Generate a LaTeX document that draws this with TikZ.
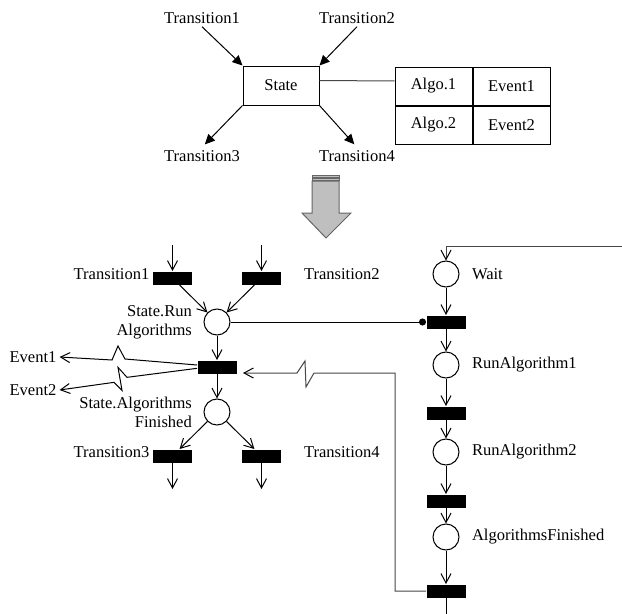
\documentclass[tikz,border=0pt]{standalone}
\usepackage{fontspec}
\setmainfont{Liberation Serif}
\usetikzlibrary{positioning, arrows.meta}

\begin{document}
\begin{tikzpicture}[
        x=0.75pt, y=-0.75pt,
        line width=0.75pt,
        every node/.style={font=\fontsize{12.4pt}{14.3pt}\selectfont},
        txt/.style={inner sep=2pt, align=center},
        statebox/.style={draw, rectangle, minimum width=57pt, minimum height=29.25pt},
        cell/.style={draw, rectangle, minimum width=57.75pt, minimum height=28.5pt, inner sep=0pt},
        place/.style={draw, circle, minimum size=19.5pt, inner sep=0pt},
        tbar/.style={fill=black, rectangle, minimum width=29.25pt, minimum height=9.75pt, inner sep=0pt},
        solid arrow/.style={-{Triangle[length=7.5pt, width=7pt]}},
        open arrow/.style={-{Straight Barb[length=7pt, width=7.5pt, color=black]}},
        link/.style={draw=black!72}
    ]
    \useasboundingbox (0,0) rectangle (622,614);

    % state with its transitions
    \node[statebox] (state) at (281,85.5) {State};
    \node[txt] (t1) at (202,18) {Transition1};
    \node[txt] (t2) at (357,18) {Transition2};
    \node[txt] (t3) at (202,156) {Transition3};
    \node[txt] (t4) at (357,156) {Transition4};

    \draw[solid arrow] (t1.south) -- (state.north west);
    \draw[solid arrow] (t2.south) -- (state.north east);
    \draw[solid arrow, shorten >=3pt] (state.south west) -- (t3.north);
    \draw[solid arrow, shorten >=3pt] (state.south east) -- (t4.north);

    % algorithm table
    \node[cell] (algoA) at (433.5,86) {Algo.1};
    \node[cell, right=0pt of algoA] (eventA) {Event1};
    \node[cell, below=0pt of algoA] (algoB) {Algo.2};
    \node[cell, right=0pt of algoB] (eventB) {Event2};

    \draw[link] ([yshift=3.75pt]state.east) -- ([yshift=3.75pt]algoA.west);

    % big gray arrow
    \draw[black!60, fill=black!25] (312,175) rectangle (339,177);
    \draw[black!60, fill=black!25] (312,178) rectangle (339,180);
    \draw[black!60, fill=black!25] (312,181) -- (339,181) -- (339,213) -- (351,213)
        -- (326,238) -- (302,213) -- (312,213) -- cycle;

    % petri net of the state
    \node[tbar] (tr1) at (172.5,278) {};
    \node[tbar] (tr2) at (261.5,278) {};
    \node[txt, left=0pt of tr1, yshift=3pt] (lt1) {Transition1};
    \node[txt, right=14.5pt of tr2, yshift=3pt] (lt2) {Transition2};
    \coordinate (in1) at (172.5,245);
    \coordinate (in2) at (261.5,245);
    \draw[open arrow] (in1) -- (tr1);
    \draw[open arrow] (in2) -- (tr2);

    \node[place] (run) at (217,322) {};
    \node[txt, align=right, anchor=east] (lrun) at (195,322) {State.Run\\Algorithms};
    \draw[open arrow] (tr1) -- (run);
    \draw[open arrow] (tr2) -- (run);

    \node[tbar] (fire) at (217,367) {};
    \draw[open arrow] (run) -- (fire);
    \node[place] (done) at (217,412) {};
    \draw[open arrow] (fire) -- (done);
    \node[txt, align=right, anchor=east] (ldone) at (195,412) {State.Algorithms\\Finished};

    \node[tbar] (tr3) at (172.5,456) {};
    \node[tbar] (tr4) at (261.5,456) {};
    \draw[open arrow] (done) -- (tr3);
    \draw[open arrow] (done) -- (tr4);
    \node[txt, left=0pt of tr3, yshift=3pt] (lt3) {Transition3};
    \node[txt, right=14.5pt of tr4, yshift=3pt] (lt4) {Transition4};
    \coordinate (out3) at (172.5,489);
    \coordinate (out4) at (261.5,489);
    \draw[open arrow] (tr3) -- (out3);
    \draw[open arrow] (tr4) -- (out4);

    % events
    \node[txt] (evA) at (33,357) {Event1};
    \node[txt] (evB) at (33,390) {Event2};
    \draw[open arrow] ([yshift=1.5pt]fire.west) -- ++(-72,-6) -- ++(-7,-13) -- ++(-6,14) -- (evA.east);
    \draw[open arrow] ([yshift=-1pt]fire.west) -- ++(-70,9) -- ++(-9,-10) -- ++(4,23) -- ++(-8,-8) -- (evB.east);

    % algorithm sequence
    \node[place] (wait) at (446,274) {};
    \node[tbar] (tw1) at (446,322) {};
    \node[place] (alg1) at (446,365) {};
    \node[tbar] (tw2) at (446,413) {};
    \node[place] (alg2) at (446,452) {};
    \node[tbar] (tw3) at (446,501) {};
    \node[place] (fin) at (446,537) {};
    \node[tbar] (tw4) at (446,591) {};

    \node[txt, right=7pt of wait] (lwait) {Wait};
    \node[txt, right=7pt of alg1] (lalg1) {RunAlgorithm1};
    \node[txt, right=7pt of alg2] (lalg2) {RunAlgorithm2};
    \node[txt, right=7pt of fin] (lfin) {AlgorithmsFinished};

    \coordinate (loop) at (622,246);
    \draw[link, open arrow] (loop) -| (wait);
    \draw[open arrow] (wait) -- (tw1);
    \draw[open arrow] (tw1) -- (alg1);
    \draw[open arrow] (alg1) -- (tw2);
    \draw[open arrow] (tw2) -- (alg2);
    \draw[open arrow] (alg2) -- (tw3);
    \draw[open arrow] (tw3) -- (fin);
    \draw[open arrow] (fin) -- (tw4);

    \draw[-{Circle[length=5.25pt]}] (run) -- (tw1.west);

    \coordinate (exit) at (446,614);
    \draw (tw4) -- (exit);

    \coordinate (back) at (395,373);
    \draw[link, open arrow] (tw4.west) -| (back) -- ++(-81,0) -- ++(-8,14) -- ++(-1,-26)
        -- ++(-8,12) -- ([shift={(6,6)}]fire.east);

\end{tikzpicture}
\end{document}
